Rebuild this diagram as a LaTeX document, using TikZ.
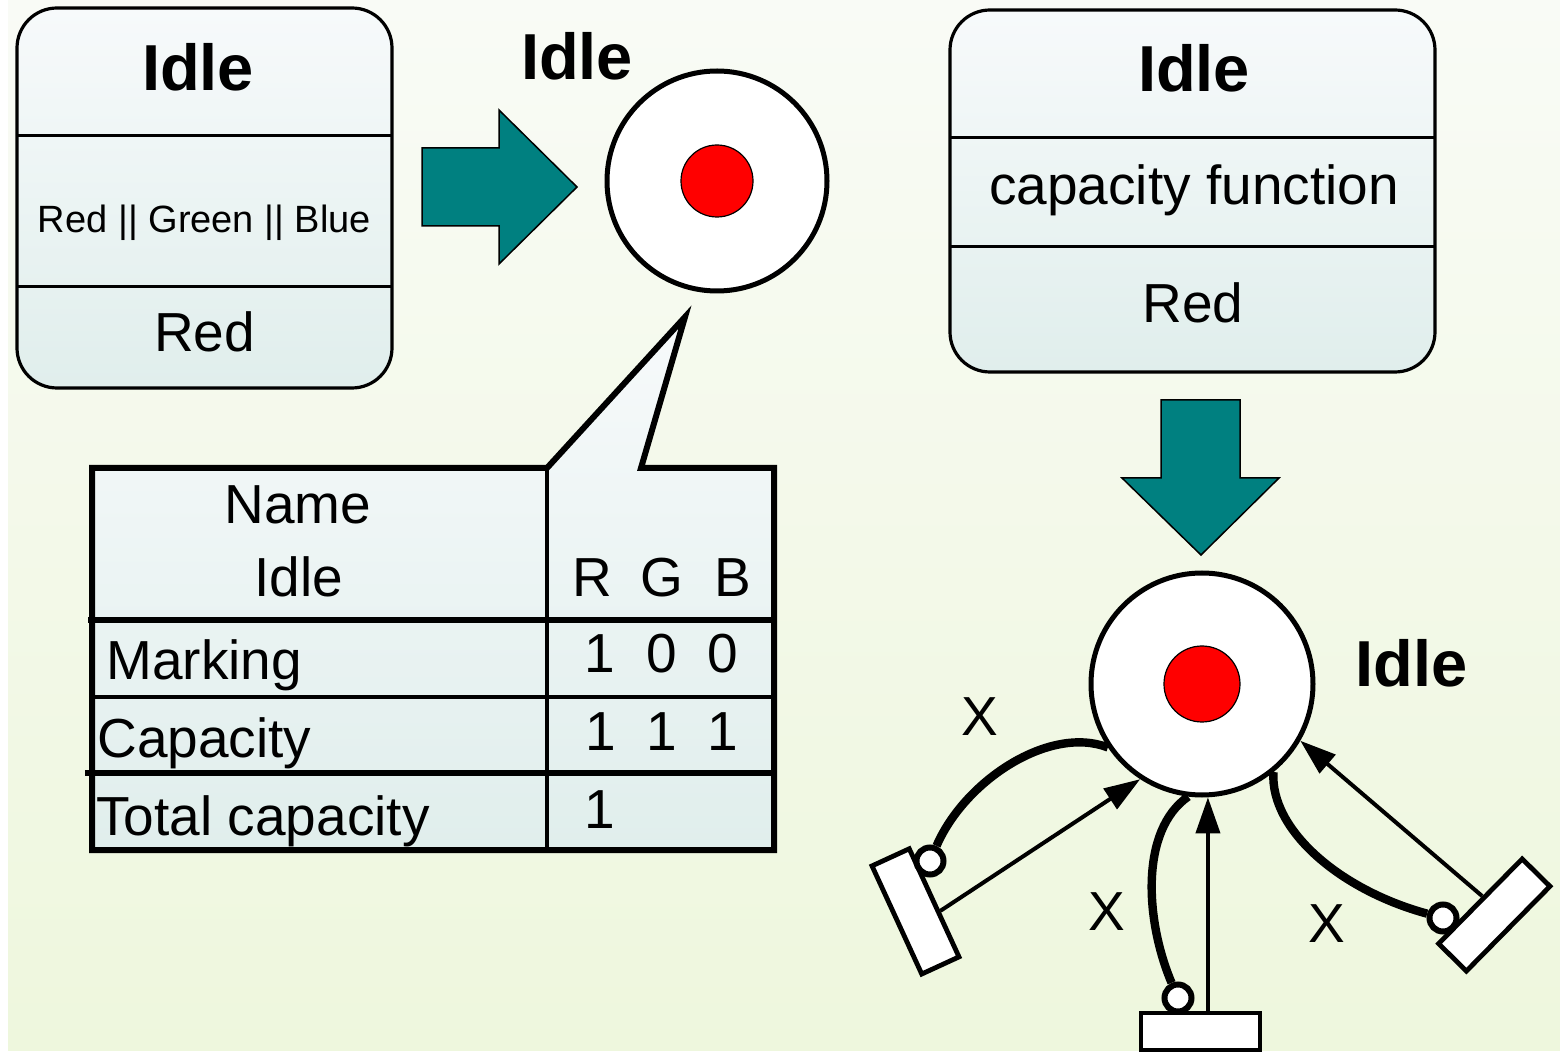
\documentclass[tikz,border=0pt]{standalone}
\usepackage{fontspec}
\setmainfont{Liberation Sans}
\usetikzlibrary{arrows.meta,calc}
\definecolor{bgtop}{HTML}{F9FBF6}
\definecolor{bgbot}{HTML}{EEF7DD}
\definecolor{boxtop}{HTML}{F7FAFB}
\definecolor{boxbot}{HTML}{E0EEEC}
\definecolor{tealfill}{HTML}{008080}
\begin{document}
\begin{tikzpicture}[x=0.5pt,y=-0.5pt,
  statebox/.style={draw, line width=1.6pt, rounded corners=20pt, top color=boxtop, bottom color=boxbot, inner sep=0pt},
  divider/.style={line width=1.5pt},
  blockarrow/.style={draw, line width=0.75pt, fill=tealfill},
  placenode/.style={circle, draw, line width=2.5pt, fill=white, inner sep=0pt},
  tokennode/.style={circle, draw, line width=0.6pt, fill=red, inner sep=0pt},
  transnode/.style={rectangle, draw, line width=2.4pt, fill=white, inner sep=0pt},
  inhnode/.style={circle, draw, line width=3pt, fill=white, inner sep=0pt, minimum size=13.5pt},
  inharc/.style={line width=4.2pt},
  flowarc/.style={line width=2pt, -{Triangle[length=18pt,width=12pt]}},
  txt/.style={anchor=base, inner sep=0pt, font=\fontsize{27.5}{31}\selectfont},
  txtw/.style={anchor=base west, inner sep=0pt, font=\fontsize{27.5}{31}\selectfont},
  boldlabel/.style={anchor=base, inner sep=0pt, font=\fontsize{32.5}{38}\selectfont\bfseries},
  tablerule/.style={line width=3pt},
  tablethin/.style={line width=1.6pt},
]
\useasboundingbox (0,0) rectangle (1560,1053);
% background
\fill[white] (0,0) rectangle (1560,1053);
\shade[top color=bgtop, bottom color=bgbot] (8,0) rectangle (1560,1050);

% ---- state box with colour domain
\node[statebox, minimum width=187.5pt, minimum height=190pt] (boxA) at (204.5,198) {};
\draw[divider] (17,136) -- (392,136);
\draw[divider] (17,287) -- (392,287);
\node[boldlabel] (boxAname) at (198,91) {Idle};
\node[anchor=base, inner sep=0pt, font=\fontsize{19}{22}\selectfont] (boxAdom) at (204.5,233) {Red || Green || Blue};
\node[txt] (boxAinit) at (204.5,352) {Red};

% ---- block arrow to the place
\draw[blockarrow] (422,148) -- (499,148) -- (499,110) -- (577,187) -- (499,264) -- (499,226) -- (422,226) -- cycle;

% ---- coloured place
\node[placenode, minimum size=110pt] (pA) at (717,181) {};
\node[tokennode, minimum size=36pt] (tokA) at (pA) {};
\node[boldlabel] (pAname) at (577,80) {Idle};

% ---- callout with the place table
\draw[line width=3pt, top color=boxtop, bottom color=boxbot]
  (92,468) -- (547,468) -- (685,317) -- (641,468) -- (774,468) -- (774,850) -- (92,850) -- cycle;
\draw[tablethin] (547,468) -- (547,850);
\draw[tablerule] (88,620) -- (771,620);
\draw[tablethin] (92,697) -- (771,697);
\draw[tablerule] (85,773) -- (771,773);
\node[txt] (tName) at (298,524) {Name};
\node[txt] (tIdle) at (298.5,597) {Idle};
\node[txt] (tR) at (592,597) {R};
\node[txt] (tG) at (662,597) {G};
\node[txt] (tB) at (732.5,597) {B};
\node[txtw] (tMark) at (106,680) {Marking};
\node[txtw] (tCap) at (97,757) {Capacity};
\node[txtw] (tTot) at (96,835) {Total capacity};
\node[txt] (m1) at (600,673) {1};
\node[txt] (m2) at (662,673) {0};
\node[txt] (m3) at (722.5,673) {0};
\node[txt] (c1) at (601,750) {1};
\node[txt] (c2) at (662,750) {1};
\node[txt] (c3) at (723,750) {1};
\node[txt] (tc1) at (600,828) {1};

% ---- state box with capacity function
\node[statebox, minimum width=242.5pt, minimum height=181pt] (boxB) at (1192.5,191) {};
\draw[divider] (950,138) -- (1435,138);
\draw[divider] (950,247) -- (1435,247);
\node[boldlabel] (boxBname) at (1194,92) {Idle};
\node[txt] (boxBfun) at (1194,205) {capacity function};
\node[txt] (boxBinit) at (1193,323) {Red};

% ---- block arrow down
\draw[blockarrow] (1161,400) -- (1240,400) -- (1240,478) -- (1279,478) -- (1201,555) -- (1122,478) -- (1161,478) -- cycle;

% ---- place with its transitions
\node[placenode, minimum size=111pt] (pB) at (1202,684) {};
\node[tokennode, minimum size=38pt] (tokB) at (pB) {};
\node[boldlabel] (pBname) at (1411.5,687) {Idle};

\node[transnode, minimum width=20.5pt, minimum height=59.5pt, rotate=24.7] (tA) at (915.5,911.4) {};
\node[transnode, minimum width=59.5pt, minimum height=18.5pt] (tB) at (1200.5,1031.5) {};
\node[transnode, minimum width=59.5pt, minimum height=19.5pt, rotate=45.4] (tC) at (1494.3,915) {};

% inhibitor-style ends on the transitions
\node[inhnode] (inA) at (930,861) {};
\node[inhnode] (inB) at (1178,998) {};
\node[inhnode] (inC) at (1443,918) {};

\draw[inharc] (inA) .. controls (965,780) and (1050,725) .. (pB.214);
\draw[inharc] (inB) .. controls (1145,920) and (1140,830) .. (pB.263);
\draw[inharc] (inC) .. controls (1340,890) and (1270,830) .. (pB.-51);

\draw[flowarc] ($(tA.north east)!0.58!(tA.south east)$) -- (pB.237);
\draw[flowarc] (tB.north -| pB.-87) -- (pB.-87);
\draw[flowarc] ($(tC.north west)!0.54!(tC.north east)$) -- (pB.-30);

\node[txt] (xA) at (980,735) {X};
\node[txt] (xB) at (1107,930) {X};
\node[txt] (xC) at (1327,942) {X};
\end{tikzpicture}
\end{document}
